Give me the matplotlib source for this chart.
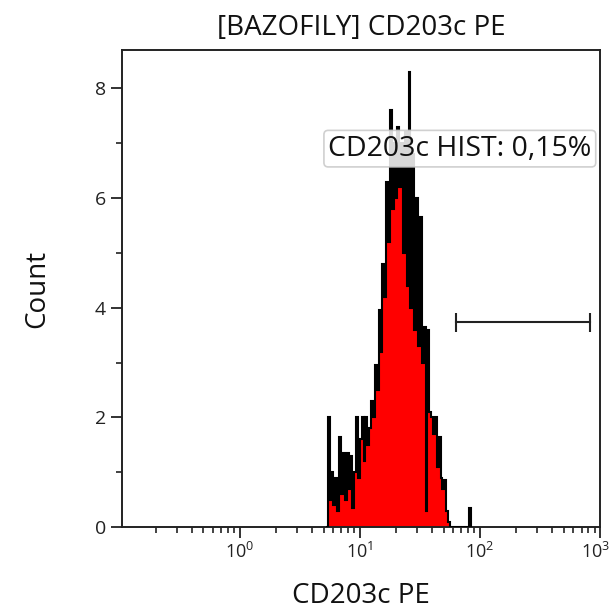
import numpy as np
import matplotlib
matplotlib.use("Agg")
import matplotlib.pyplot as plt
from matplotlib.ticker import FixedLocator, NullFormatter
from matplotlib.transforms import ScaledTranslation

plt.rcParams['font.family'] = ['Open Sans', 'DejaVu Sans']
plt.rcParams['mathtext.fontset'] = 'custom'
plt.rcParams['mathtext.rm'] = 'Open Sans'

# ---- data ----
title = "[BAZOFILY] CD203c PE"
x_label = "CD203c PE"
y_label = "Count"
channels_per_decade = 64
log_min, log_max = -1, 3
first_channel = 110
counts = [
    0.0,
    2.0, 0.5, 1.0, 0.4, 0.9, 0.3, 1.65, 0.6, 1.35, 0.5,
    1.35, 0.7, 1.3, 0.35, 1.0, 2.0, 0.9, 1.6, 2.0, 1.2,
    2.0, 1.5, 1.8, 2.3, 2.0, 2.95, 2.5, 3.95, 3.2, 4.8,
    4.2, 6.3, 5.2, 7.6, 5.8, 7.0, 6.0, 7.3, 6.2, 7.0,
    5.0, 7.2, 4.4, 8.3, 4.0, 6.8, 3.6, 6.0, 3.3, 5.65,
    3.0, 3.65, 0.3, 3.6, 2.1, 2.0, 1.7, 2.0, 1.1, 1.65,
    0.9, 0.7, 0.85, 0.3, 0.1, 0.0, 0.0, 0.0, 0.0, 0.0,
    0.0, 0.0, 0.0, 0.0, 0.0, 0.35, 0.0,
]
gate_range = [63, 826]
gate_y = 3.73
gate_label = "CD203c HIST: 0,15%"
gate_label_pos = (68, 6.9)
x_lim = [0.105, 1000]
y_lim = [0, 8.7]
y_major = [0, 2, 4, 6, 8]
y_minor = [1, 3, 5, 7]
x_major = [1, 10, 100, 1000]
x_major_labels = [r'$\mathregular{10^{0}}$', r'$\mathregular{10^{1}}$',
                  r'$\mathregular{10^{2}}$', r'$\mathregular{10^{3}}$']

# ---- figure ----
fig = plt.figure(figsize=(6.13, 6.09), dpi=100)
ax = fig.add_axes([0.199, 0.1346, 0.78, 0.7834])

n_all = (log_max - log_min) * channels_per_decade
all_edges = np.logspace(log_min, log_max, n_all + 1)
edges = all_edges[first_channel:first_channel + len(counts) + 1]

ax.stairs(counts, edges, fill=True, color='#ff0000', zorder=2)
ax.stairs(counts, edges, color='black', linewidth=1.5, zorder=3)

# gate
ax.plot(gate_range, [gate_y, gate_y], color='#222222', lw=1.5, zorder=4)
ax.vlines(gate_range, gate_y - 0.18, gate_y + 0.18, color='#222222', lw=1.5, zorder=4)

ax.text(gate_label_pos[0], gate_label_pos[1], gate_label, fontsize=20.5,
        ha='center', va='center', color='#111111', zorder=6,
        bbox=dict(boxstyle='round,pad=0.15', fc='white', ec='#c8c8c8',
                  alpha=0.85, lw=1.2))

ax.set_xscale('log')
ax.set_xlim(x_lim)
ax.set_ylim(y_lim)

ax.xaxis.set_major_locator(FixedLocator(x_major))
ax.set_xticklabels(x_major_labels)
minor_x = [m * 10.0 ** d for d in range(-1, 3) for m in range(2, 10)]
ax.xaxis.set_minor_locator(FixedLocator(minor_x))
ax.xaxis.set_minor_formatter(NullFormatter())
ax.yaxis.set_major_locator(FixedLocator(y_major))
ax.yaxis.set_minor_locator(FixedLocator(y_minor))

ax.tick_params(axis='both', which='major', direction='out', length=8, width=1.3,
               labelsize=14, color='#222222', labelcolor='#222222')
ax.tick_params(axis='both', which='minor', direction='out', length=4, width=1.2,
               color='#222222')
ax.tick_params(axis='x', which='major', pad=3, labelsize=13)

# nudge the last x tick label slightly left so it stays inside the figure
last_lbl = ax.get_xticklabels()[-1]
last_lbl.set_transform(last_lbl.get_transform() +
                       ScaledTranslation(-5 / 100, 0, fig.dpi_scale_trans))

for s in ax.spines.values():
    s.set_linewidth(1.4)
    s.set_color('#222222')

ax.set_title(title, fontsize=20, pad=11, color='#111111')
ax.set_xlabel(x_label, fontsize=20, labelpad=14, color='#111111')
ax.set_ylabel(y_label, fontsize=20, labelpad=31, color='#111111')

fig.savefig('out.png', dpi=100)
